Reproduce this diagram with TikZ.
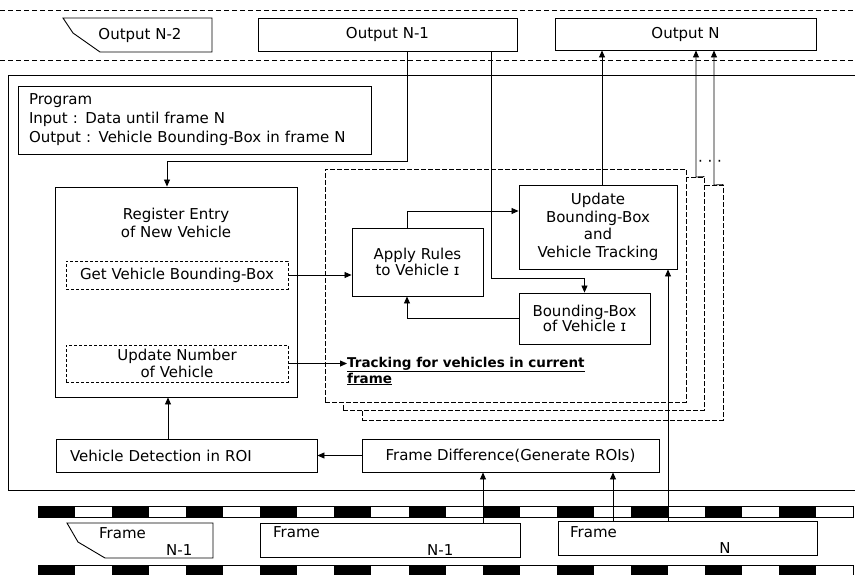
\documentclass[tikz,border=0pt]{standalone}
\usepackage{fontspec}
\setmainfont{DejaVu Sans}
\usetikzlibrary{arrows.meta}
\newcommand{\smI}{ɪ}
\begin{document}
\begin{tikzpicture}[x=1pt,y=-1pt,
  ln/.style={line width=0.9pt},
  f12/.style={font=\fontsize{15}{17}\selectfont},
  box/.style={draw, line width=0.9pt, inner sep=0pt, f12, align=center},
  dbox/.style={box, dash pattern=on 3pt off 2pt},
  tbox/.style={draw, line width=0.8pt, dash pattern=on 5pt off 2pt, fill=white, inner sep=0pt, minimum width=361pt},
  arr/.style={line width=0.8pt, -{Triangle[length=7pt,width=6pt]}},
  txt/.style={inner sep=0pt, f12, align=center},
  sep/.style={line width=0.9pt, dash pattern=on 5pt off 3pt}
]
\useasboundingbox (0,0) rectangle (855,574);

% top separators
\draw[sep] (0,10) -- (855,10);
\draw[sep] (0,60) -- (855,60);

% outputs
\draw[ln] (63,18) -- (212,18) -- (212,52) -- (100,52) -- (73,33) -- cycle;
\node[txt] (outN2) at (140,35) {Output N-2};
\node[box, minimum width=259pt, minimum height=33pt] (outN1) at (387.5,34.5) {Output N-1};
\node[box, minimum width=261pt, minimum height=32pt] (outN) at (685.5,34) {Output N};

% outer program frame (open on the right)
\draw[ln] (855,75) -- (8,75) -- (8,490) -- (855,490);

\node[draw, ln, minimum width=353pt, minimum height=68pt, text width=331pt, inner xsep=11pt, inner ysep=0pt,
      align=left, font=\fontsize{15}{19}\selectfont] (prog) at (194.5,120)
  {Program\\Input : Data until frame N\\Output : Vehicle Bounding-Box in frame N};

% tracking boxes (stacked)
\node[tbox, minimum height=235pt] (T3) at (542.5,302.5) {};
\node[tbox, minimum height=233pt] (T2) at (523.5,293.5) {};
\node[tbox, minimum height=233pt] (T1) at (505.5,285.5) {};
\node[txt] (dots) at (710,163) {· · ·};

% register box
\node[box, minimum width=242pt, minimum height=210pt] (reg) at (176,292) {};
\node[txt, font=\fontsize{15}{18}\selectfont] (regt) at (176,223) {Register Entry\\of New Vehicle};
\node[dbox, minimum width=222pt, minimum height=28pt] (getbb) at (177,275) {Get Vehicle Bounding-Box};
\node[dbox, minimum width=222pt, minimum height=37pt, font=\fontsize{15}{17}\selectfont] (updnum) at (177,363.5) {Update Number\\of Vehicle};

% inner tracking boxes
\node[box, minimum width=131pt, minimum height=68pt, font=\fontsize{15}{15.5}\selectfont] (apply) at (417.5,262) {Apply Rules\\to Vehicle \smI};
\node[box, minimum width=158pt, minimum height=84pt, font=\fontsize{15}{17.7}\selectfont] (upd) at (598,227) {Update\\Bounding-Box\\and\\Vehicle Tracking};
\node[box, minimum width=131pt, minimum height=51pt, font=\fontsize{15}{15.5}\selectfont] (bbv) at (584.5,318.5) {Bounding-Box\\of Vehicle \smI};
\node[inner sep=0pt, anchor=west, align=left, font=\bfseries\fontsize{13.5}{16}\selectfont] (trk) at (347,371)
  {\underline{Tracking for vehicles in current}\\\underline{frame}};

% detection row
\node[box, minimum width=261pt, minimum height=33pt, text width=233pt, inner xsep=14pt, align=left] (vdet) at (186.5,455.5) {Vehicle Detection in ROI};
\node[box, minimum width=297pt, minimum height=33pt] (fdiff) at (510.5,455.5) {Frame Difference(Generate ROIs)};

% film strips
\foreach \yy in {506,565}{
  \draw[line width=0.6pt] (38,\yy) rectangle (853,\yy+11);
  \foreach \i in {0,2,...,20}{
    \fill (38+\i*37.05,\yy) rectangle (38+\i*37.05+37.05,\yy+11);
  }
}

% frames
\draw[ln, fill=white] (67,523) -- (213,523) -- (213,558) -- (105,558) -- (78,542) -- cycle;
\node[txt, anchor=west] (fa1) at (99,533) {Frame};
\node[txt, anchor=west] (fa2) at (166,550) {N-1};
\node[box, fill=white, minimum width=260pt, minimum height=34pt] (fb) at (390,540) {};
\node[txt, anchor=west] (fb1) at (273,532) {Frame};
\node[txt, anchor=west] (fb2) at (427,550) {N-1};
\node[box, fill=white, minimum width=259pt, minimum height=34pt] (fc) at (687.5,538) {};
\node[txt, anchor=west] (fc1) at (570,532) {Frame};
\node[txt] (fc2) at (725,548) {N};

% connectors
\coordinate (c1) at (407,161);
\draw[arr] (outN1.south -| c1) -- (c1) -| (reg.north -| 167,0);
\coordinate (c2) at (491,278);
\draw[arr] (outN1.south -| c2) -- (c2) -| (bbv.north);
\draw[arr] (getbb.east) -- (getbb.east -| apply.west);
\coordinate (c3) at (407,211);
\draw[arr] (apply.north -| c3) -- (c3) -- (c3 -| upd.west);
\draw[arr] (bbv.west) -| (apply.south -| c3);
\draw[arr] (updnum.east) -- (updnum.east -| trk.west);
\draw[arr] (upd.north -| 602,0) -- (outN.south -| 602,0);
\coordinate (c4) at (696,177);
\draw[arr] (T2.north east) -- (c4) -- (c4 |- outN.south);
\coordinate (c5) at (714,185);
\draw[arr] (T3.north east) -- (c5) -- (c5 |- outN.south);
\draw[arr] (vdet.north -| 168,0) -- (reg.south -| 168,0);
\draw[arr] (fdiff.west) -- (vdet.east);
\draw[arr] (fb.north -| 483,0) -- (fdiff.south -| 483,0);
\draw[arr] (fc.north -| 613,0) -- (fdiff.south -| 613,0);
\draw[arr] (fc.north -| 668,0) -- (upd.south -| 668,0);
\end{tikzpicture}
\end{document}
